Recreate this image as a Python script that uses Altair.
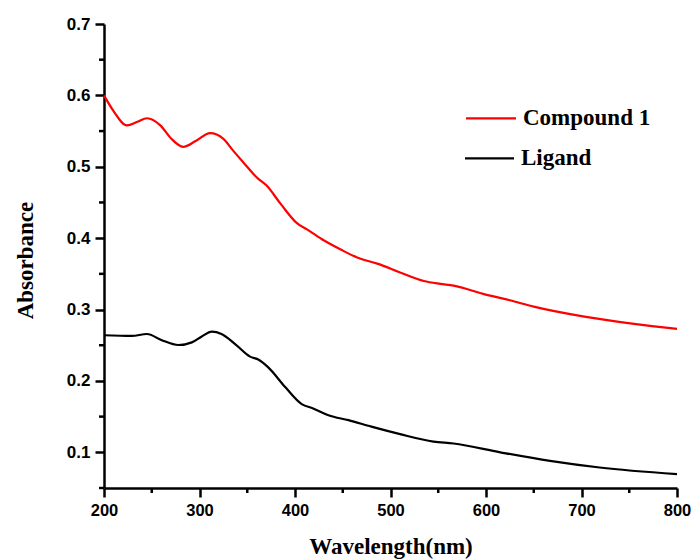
import altair as alt
import pandas as pd

# ---- data ----
wl_compound = [200, 210, 224, 235, 245, 259, 270, 283, 296, 311, 325, 335, 346, 360, 370,
               385, 402, 413, 430, 448, 465, 487, 510, 535, 552, 566, 597, 625, 650, 703, 755, 800]
abs_compound = [0.600, 0.578, 0.558, 0.563, 0.568, 0.558, 0.540, 0.528, 0.536, 0.547, 0.539,
                0.523, 0.506, 0.485, 0.474, 0.448, 0.421, 0.412, 0.397, 0.384, 0.373, 0.364,
                0.352, 0.340, 0.336, 0.3335, 0.322, 0.313, 0.304, 0.290, 0.280, 0.273]

wl_ligand = [200, 229, 245, 260, 278, 292, 302, 313, 323, 337, 353, 362, 372, 390, 407, 419,
             435, 456, 480, 510, 545, 566, 615, 667, 719, 800]
abs_ligand = [0.264, 0.263, 0.2657, 0.2574, 0.2503, 0.254, 0.262, 0.269, 0.2658, 0.252, 0.234,
              0.2297, 0.219, 0.191, 0.1676, 0.1615, 0.152, 0.145, 0.136, 0.1255, 0.115, 0.1123,
              0.100, 0.088, 0.0787, 0.0694]

series_names = ["Compound 1", "Ligand"]
series_colors = ["#ff0000", "#000000"]

x_ticks = [200, 300, 400, 500, 600, 700, 800]
x_minor = [250, 350, 450, 550, 650, 750]
y_ticks = [0.1, 0.2, 0.3, 0.4, 0.5, 0.6, 0.7]
y_minor = [0.05, 0.15, 0.25, 0.35, 0.45, 0.55, 0.65]

df = pd.concat([
    pd.DataFrame({"wl": wl_compound, "abs": abs_compound, "series": series_names[0]}),
    pd.DataFrame({"wl": wl_ligand, "abs": abs_ligand, "series": series_names[1]}),
])

W, H = 573, 464
xscale = alt.Scale(domain=[200, 800], nice=False, zero=False)
yscale = alt.Scale(domain=[0.05, 0.7], nice=False, zero=False)

common_axis = dict(
    grid=False, domainColor="black", domainWidth=2.5, tickColor="black", tickWidth=2.5,
    tickSize=9, labelFont="Liberation Sans", labelFontWeight="bold",
    labelColor="black", titleFont="Liberation Serif", titleFontWeight="bold",
    titleFontSize=23, titleColor="black", labelPadding=5, labelFlush=False,
    labelOverlap=False,
)

x_axis = alt.Axis(values=x_ticks, format="d", title="Wavelength(nm)", labelFontSize=16.5,
                  titleX=W / 2, titleY=65, titleBaseline="alphabetic", **common_axis)
y_axis = alt.Axis(values=y_ticks, format=".1f", title="Absorbance", labelFontSize=17,
                  titleX=-72, titleY=236, titleBaseline="alphabetic",
                  titleAngle=270, **common_axis)

lines = alt.Chart(df).mark_line(strokeWidth=2.2, interpolate="monotone").encode(
    x=alt.X("wl:Q", scale=xscale, axis=x_axis),
    y=alt.Y("abs:Q", scale=yscale, axis=y_axis),
    color=alt.Color("series:N", scale=alt.Scale(domain=series_names, range=series_colors),
                    legend=None),
    detail="series:N",
)

x_minor_ticks = alt.Chart(pd.DataFrame({"wl": x_minor})).mark_rule(
    color="black", strokeWidth=2.5).encode(
    x=alt.X("wl:Q", scale=xscale, axis=x_axis),
    y=alt.value(H), y2=alt.value(H + 5),
)
y_minor_ticks = alt.Chart(pd.DataFrame({"abs": y_minor})).mark_rule(
    color="black", strokeWidth=2.5).encode(
    y=alt.Y("abs:Q", scale=yscale, axis=y_axis),
    x=alt.value(0), x2=alt.value(-5),
)

legend_layers = []
legend_pos = [(362, 412, 94.3, 419), (361, 410, 134.3, 417)]
for name, color, (lx1, lx2, ly, tx) in zip(series_names, series_colors, legend_pos):
    ldf = pd.DataFrame({"name": [name]})
    legend_layers.append(
        alt.Chart(ldf).mark_rule(color=color, strokeWidth=2.2).encode(
            x=alt.value(lx1), x2=alt.value(lx2), y=alt.value(ly))
    )
    legend_layers.append(
        alt.Chart(ldf).mark_text(font="Liberation Serif", fontWeight="bold", fontSize=23,
                                 align="left", baseline="middle", color="black").encode(
            x=alt.value(tx), y=alt.value(ly), text="name:N")
    )

chart = alt.layer(lines, x_minor_ticks, y_minor_ticks, *legend_layers).properties(
    width=W, height=H,
    autosize=alt.AutoSizeParams(type="none"),
    padding={"left": 104, "top": 24, "right": 14, "bottom": 72},
    background="white",
).configure_view(stroke=None)

chart.save("out.html", embed_options={"renderer": "svg", "actions": False})
